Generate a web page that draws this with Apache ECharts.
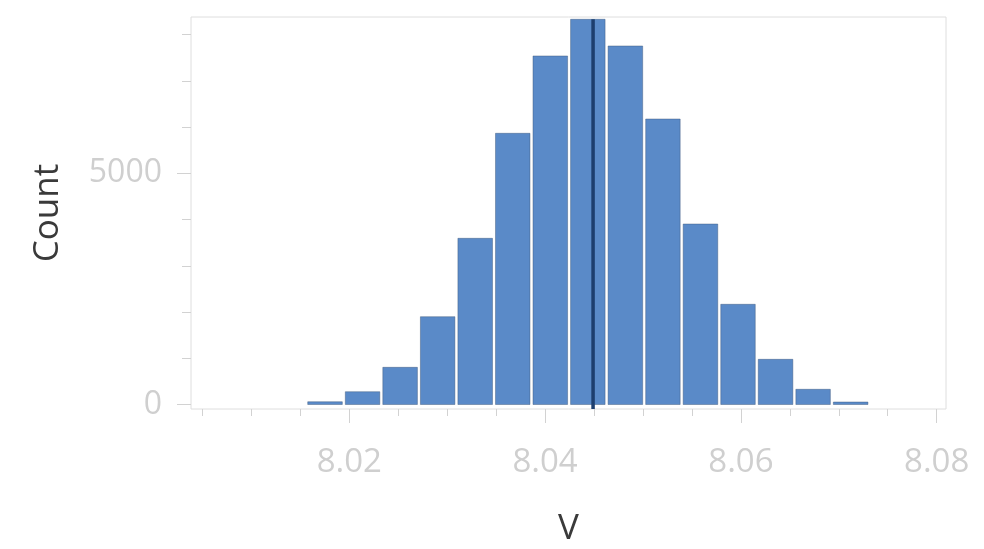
<!DOCTYPE html>
<html>
<head>
<meta charset="utf-8">
<script src="https://cdn.jsdelivr.net/npm/echarts@6/dist/echarts.min.js"></script>
<style>
  html, body { margin: 0; padding: 0; background: #fff; }
  #chart { width: 984px; height: 549px; }
</style>
</head>
<body>
<div id="chart"></div>
<script>
// Histogram of V: bin edges and counts per bin
const binEdges = [8.0156, 8.01944, 8.02327, 8.02711, 8.03094, 8.03478, 8.03861, 8.04245,
                  8.04628, 8.05012, 8.05395, 8.05779, 8.06162, 8.06546, 8.06929, 8.07313];
const counts = [60, 277, 804, 1899, 3594, 5865, 7537, 8330, 7753, 6174, 3903, 2167, 977, 329, 54];
const meanV = 8.0449;

// Axis ranges and tick values
const xRange = [8.00383, 8.08095];
const yRange = [-97, 8380];
const xMajorTicks = [8.02, 8.04, 8.06, 8.08];
const xMinorTicks = [8.005, 8.01, 8.015, 8.025, 8.03, 8.035, 8.045, 8.05, 8.055, 8.065, 8.07, 8.075];
const yMajorTicks = [0, 5000];
const yMinorTicks = [1000, 2000, 3000, 4000, 6000, 7000, 8000];

const bins = counts.map((c, i) => [binEdges[i], binEdges[i + 1], c]);

const FONT = '"Open Sans", "DejaVu Sans", sans-serif';
const labelColor = '#cfcfcf';
const tickColor = '#d2d2d2';

const chart = echarts.init(document.getElementById('chart'), null, { renderer: 'canvas' });

const baseX = {
  type: 'value', min: xRange[0], max: xRange[1], position: 'bottom',
  axisLine: { show: false, onZero: false }, splitLine: { show: false }
};
const baseY = {
  type: 'value', min: yRange[0], max: yRange[1], position: 'left',
  axisLine: { show: false, onZero: false }, splitLine: { show: false }
};

chart.setOption({
  animation: false,
  backgroundColor: '#ffffff',
  grid: {
    left: 191, right: 38, top: 17, bottom: 140,
    outerBoundsMode: 'none', containLabel: false,
    show: true, borderColor: '#dedede', borderWidth: 1, backgroundColor: '#ffffff'
  },
  xAxis: [
    Object.assign({}, baseX, {
      name: 'V', nameLocation: 'middle', nameGap: 103,
      nameTextStyle: { fontFamily: FONT, fontSize: 35, color: '#3a3a3a' },
      axisTick: { show: true, length: 14, customValues: xMajorTicks, lineStyle: { color: tickColor, width: 1 } },
      axisLabel: {
        show: true, customValues: xMajorTicks, margin: 37,
        fontFamily: FONT, fontSize: 33, color: labelColor,
        formatter: v => v.toFixed(2)
      }
    }),
    Object.assign({}, baseX, {
      axisTick: { show: true, length: 7, customValues: xMinorTicks, lineStyle: { color: tickColor, width: 1 } },
      axisLabel: { show: false }
    })
  ],
  yAxis: [
    Object.assign({}, baseY, {
      name: 'Count', nameLocation: 'middle', nameGap: 125, nameRotate: 90,
      nameTextStyle: { fontFamily: FONT, fontSize: 35, color: '#3a3a3a' },
      axisTick: { show: true, length: 14, customValues: yMajorTicks, lineStyle: { color: tickColor, width: 1 } },
      axisLabel: {
        show: true, customValues: yMajorTicks, margin: 29,
        fontFamily: FONT, fontSize: 32, color: labelColor,
        formatter: v => String(v)
      }
    }),
    Object.assign({}, baseY, {
      axisTick: { show: true, length: 9, customValues: yMinorTicks, lineStyle: { color: tickColor, width: 1 } },
      axisLabel: { show: false }
    })
  ],
  series: [
    {
      type: 'custom',
      xAxisIndex: 0, yAxisIndex: 0,
      data: bins,
      encode: { x: [0, 1], y: 2 },
      renderItem: function (params, api) {
        const p0 = api.coord([api.value(0), api.value(2)]);
        const p1 = api.coord([api.value(1), 0]);
        const gap = 1.5;
        return {
          type: 'rect',
          shape: { x: p0[0] + gap, y: p0[1], width: p1[0] - p0[0] - 2 * gap, height: p1[1] - p0[1] },
          style: { fill: '#5a8ac8', stroke: 'rgba(60,85,120,0.55)', lineWidth: 0.8 }
        };
      },
      z: 2
    },
    {
      type: 'line',
      xAxisIndex: 0, yAxisIndex: 0,
      data: [[meanV, yRange[0]], [meanV, counts[7]]],
      symbol: 'none',
      lineStyle: { color: '#1d3e6e', width: 3.5 },
      z: 3
    }
  ]
});
</script>
</body>
</html>
